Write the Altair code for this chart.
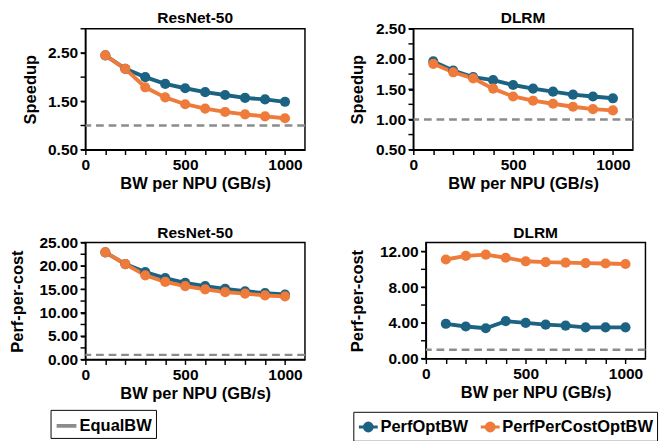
import altair as alt
import pandas as pd

# ---------------- data ----------------
bw = [100, 200, 300, 400, 500, 600, 700, 800, 900, 1000]
series_names = ["PerfOptBW", "PerfPerCostOptBW"]
equal_bw_name = "EqualBW"
equal_bw_value = 1.0

resnet_speedup_perf = [2.45, 2.17, 2.00, 1.86, 1.77, 1.69, 1.63, 1.57, 1.54, 1.49]
resnet_speedup_ppc = [2.45, 2.17, 1.79, 1.58, 1.44, 1.35, 1.28, 1.23, 1.19, 1.15]
dlrm_speedup_perf = [1.96, 1.81, 1.70, 1.65, 1.57, 1.51, 1.46, 1.41, 1.38, 1.35]
dlrm_speedup_ppc = [1.92, 1.78, 1.68, 1.51, 1.38, 1.31, 1.26, 1.21, 1.17, 1.15]
resnet_ppc_perf = [22.9, 20.4, 18.7, 17.4, 16.4, 15.7, 15.1, 14.6, 14.2, 13.9]
resnet_ppc_ppc = [22.9, 20.4, 18.0, 16.6, 15.7, 15.0, 14.4, 14.1, 13.7, 13.5]
dlrm_ppc_perf = [3.9, 3.6, 3.4, 4.2, 4.0, 3.8, 3.7, 3.5, 3.5, 3.5]
dlrm_ppc_ppc = [11.1, 11.5, 11.65, 11.3, 10.9, 10.8, 10.75, 10.7, 10.65, 10.6]

# ---------------- style ----------------
BLUE = "#1c6383"
ORANGE = "#ef7b3b"
GREY = "#8c8c8c"
FONT = "Liberation Sans"


def panel(title, ytitle, perf, ppc, ydomain, ytick_step, ylabel_base, ylabel_step,
          width, height, yextent, title_dy=0, color_legend=None, stroke_legend=None):
    df = pd.DataFrame({
        "bw": bw + bw,
        "value": perf + ppc,
        "series": [series_names[0]] * len(bw) + [series_names[1]] * len(bw),
    })
    eq = pd.DataFrame({"v": [equal_bw_value], "name": [equal_bw_name]})

    # minor tick positions (axis decoration)
    n = int(round((ydomain[1] - ydomain[0]) / ytick_step))
    minor = pd.DataFrame({"t": [ydomain[0] + i * ytick_step for i in range(n + 1)]})
    m = int(round((ydomain[1] - ylabel_base) / ylabel_step))
    ylabels = [ylabel_base + i * ylabel_step for i in range(m + 1)
               if ylabel_base + i * ylabel_step <= ydomain[1] + 1e-9]

    xscale = alt.Scale(domain=[0, 1100], nice=False)
    xaxis = alt.Axis(
        values=list(range(0, 1001, 100)),
        labelExpr="datum.value % 500 == 0 ? datum.value : ''",
        title="BW per NPU (GB/s)",
        grid=False,
        labelOverlap=False,
        labelFlush=False,
    )
    yscale = alt.Scale(domain=ydomain, nice=False, zero=False)
    yaxis = alt.Axis(
        values=ylabels,
        format=".2f",
        title=ytitle,
        grid=False,
        minExtent=yextent,
        maxExtent=yextent,
        labelOverlap=False,
        labelFlush=False,
        labelBound=False,
    )
    x = alt.X("bw:Q", scale=xscale, axis=xaxis)
    y = alt.Y("value:Q", scale=yscale, axis=yaxis)
    cscale = alt.Scale(domain=series_names, range=[BLUE, ORANGE])
    color = alt.Color("series:N", scale=cscale, legend=color_legend)

    base = alt.Chart(df)
    lines = base.mark_line(strokeWidth=4).encode(x=x, y=y, color=color)
    points = base.mark_point(filled=True, size=110, opacity=1).encode(x=x, y=y, color=color)
    rule = alt.Chart(eq).mark_rule(strokeDash=[8, 5], strokeWidth=2.5).encode(
        y=alt.Y("v:Q", scale=yscale, axis=yaxis),
        stroke=alt.Stroke("name:N", scale=alt.Scale(domain=[equal_bw_name], range=[GREY]),
                          legend=stroke_legend),
    )
    minor_ticks = alt.Chart(minor).mark_tick(
        orient="horizontal", size=5, thickness=1.5, color="black", xOffset=-2.5,
        clip=False, opacity=1
    ).encode(
        x=alt.XDatum(0, scale=xscale, axis=xaxis),
        y=alt.Y("t:Q", scale=yscale, axis=yaxis),
    )
    return alt.layer(rule, minor_ticks, lines, points).properties(
        title=alt.TitleParams(title, frame="group", dy=title_dy),
        width=width, height=height,
    )


legend_common = dict(
    orient="none",
    direction="horizontal",
    title=None,
    strokeColor="black",
    fillColor="white",
    padding=4,
    labelFont=FONT,
    labelFontSize=17,
    labelFontWeight="bold",
    labelColor="black",
    labelOffset=1,
    cornerRadius=0,
)

eq_legend = alt.Legend(
    legendX=-36, legendY=173,
    symbolType="stroke", symbolStrokeWidth=4, symbolSize=420, symbolDash=[20, 0],
    symbolStrokeColor=GREY,
    **legend_common,
)
series_legend = alt.Legend(
    legendX=-75, legendY=175,
    symbolType="M-1,0H1M0.42,0A0.42,0.42,0,1,1,-0.42,0A0.42,0.42,0,1,1,0.42,0Z",
    symbolSize=380, symbolStrokeWidth=3,
    columnPadding=6,
    **legend_common,
)

tl = panel("ResNet-50", "Speedup", resnet_speedup_perf, resnet_speedup_ppc,
           [0.5, 3.0], 0.5, 0.5, 1.0, 227, 125, 45)
tr = panel("DLRM", "Speedup", dlrm_speedup_perf, dlrm_speedup_ppc,
           [0.5, 2.5], 0.25, 0.5, 0.5, 227, 125, 45, title_dy=7)
bl = panel("ResNet-50", "Perf-per-cost", resnet_ppc_perf, resnet_ppc_ppc,
           [0, 25], 2.5, 0, 5, 227, 121, 58, title_dy=8, stroke_legend=eq_legend)
br = panel("DLRM", "Perf-per-cost", dlrm_ppc_perf, dlrm_ppc_ppc,
           [0, 13], 2, 0, 4, 227, 120, 58, color_legend=series_legend)

chart = alt.concat(
    tl, tr, bl, br, columns=2, align="none",
    spacing={"row": 33, "column": 43},
).resolve_scale(
    color="independent", stroke="independent"
).properties(
    padding={"left": 0, "top": -6, "right": 0, "bottom": 0}
).configure_view(
    stroke="black", strokeWidth=1.5
).configure_axis(
    labelFont=FONT, labelFontSize=16, labelFontWeight="bold", labelColor="black",
    titleFont=FONT, titleFontSize=17, titleFontWeight="bold", titleColor="black",
    domainColor="black", domainWidth=1.5, tickColor="black", tickWidth=1.5,
    tickSize=5, labelPadding=3, titlePadding=3, labelOverlap=False,
).configure_title(
    font=FONT, fontSize=16, fontWeight="bold", color="black", offset=2, frame="group"
)

chart.save("out.html", embed_options={"renderer": "svg", "actions": False})
